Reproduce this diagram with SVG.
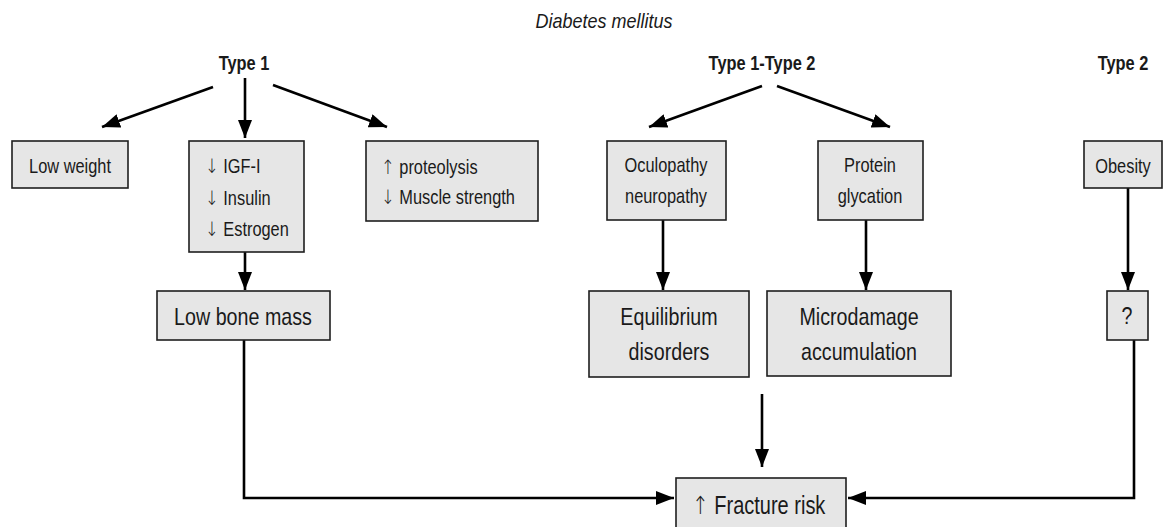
<svg xmlns="http://www.w3.org/2000/svg" width="1165" height="527" viewBox="0 0 1165 527">
<defs>
<style>
text{font-family:"Liberation Sans",Arial,sans-serif;fill:#1a1a1a}
.ar{font-family:"DejaVu Sans",sans-serif;font-weight:200}
.box{fill:#e6e6e6;stroke:#1f1f1f;stroke-width:1.6}
.s{font-size:20px}
.l{font-size:24px}
.f{font-size:25px}
.h{font-size:20px;font-weight:bold}
.t{font-size:20px;font-style:italic}
.c{text-anchor:middle}
.ln{fill:none;stroke:#000;stroke-width:2.6}
</style>
<marker id="ah" markerUnits="userSpaceOnUse" markerWidth="19" markerHeight="14" refX="18" refY="7" orient="auto" viewBox="0 0 19 14">
<path d="M0,0 L18,7 L0,14 Z" fill="#000"/>
</marker>
</defs>
<rect width="1165" height="527" fill="#fff"/>
<text class="t c" transform="translate(604,28) scale(0.9,1)">Diabetes mellitus</text>
<text class="h c" transform="translate(244,70) scale(0.82,1)">Type 1</text>
<text class="h c" transform="translate(762,70) scale(0.82,1)">Type 1-Type 2</text>
<text class="h c" transform="translate(1123,70) scale(0.82,1)">Type 2</text>
<g id="connectors">
<line class="ln" x1="213" y1="87" x2="102" y2="127" marker-end="url(#ah)"/>
<line class="ln" x1="245" y1="78" x2="245" y2="138" marker-end="url(#ah)"/>
<line class="ln" x1="273" y1="85" x2="387" y2="127" marker-end="url(#ah)"/>
<line class="ln" x1="762" y1="86" x2="649" y2="127" marker-end="url(#ah)"/>
<line class="ln" x1="777" y1="86" x2="890" y2="127" marker-end="url(#ah)"/>
<line class="ln" x1="245" y1="252" x2="245" y2="290" marker-end="url(#ah)"/>
<line class="ln" x1="663" y1="220" x2="663" y2="290" marker-end="url(#ah)"/>
<line class="ln" x1="866" y1="220" x2="866" y2="290" marker-end="url(#ah)"/>
<line class="ln" x1="1128" y1="188" x2="1128" y2="290" marker-end="url(#ah)"/>
<line class="ln" x1="762" y1="394" x2="762" y2="467" marker-end="url(#ah)"/>
<path class="ln" d="M244,340 V498 H674" marker-end="url(#ah)"/>
<path class="ln" d="M1134,340 V498 H848" marker-end="url(#ah)"/>
</g>
<g id="low-weight"><rect class="box" x="12" y="141" width="116" height="47"/><text class="s c" transform="translate(70,173) scale(0.82,1)">Low weight</text></g>
<g id="hormones"><rect class="box" x="189" y="141" width="115" height="111"/><text class="s" transform="translate(205,173) scale(0.82,1)"><tspan class="ar">↓</tspan> IGF-I</text><text class="s" transform="translate(205,205) scale(0.82,1)"><tspan class="ar">↓</tspan> Insulin</text><text class="s" transform="translate(205,236) scale(0.82,1)"><tspan class="ar">↓</tspan> Estrogen</text></g>
<g id="proteolysis"><rect class="box" x="366" y="141" width="172" height="80"/><text class="s" transform="translate(381,174) scale(0.82,1)"><tspan class="ar">↑</tspan> proteolysis</text><text class="s" transform="translate(381,204) scale(0.82,1)"><tspan class="ar">↓</tspan> Muscle strength</text></g>
<g id="oculopathy"><rect class="box" x="607" y="141" width="119" height="79"/><text class="s c" transform="translate(666,172) scale(0.82,1)">Oculopathy</text><text class="s c" transform="translate(666,203) scale(0.82,1)">neuropathy</text></g>
<g id="protein"><rect class="box" x="818" y="141" width="105" height="79"/><text class="s c" transform="translate(870,172) scale(0.82,1)">Protein</text><text class="s c" transform="translate(870,203) scale(0.82,1)">glycation</text></g>
<g id="obesity"><rect class="box" x="1084" y="141" width="78" height="47"/><text class="s c" transform="translate(1123,173) scale(0.82,1)">Obesity</text></g>
<g id="low-bone-mass"><rect class="box" x="157" y="291" width="173" height="49"/><text class="l c" transform="translate(243,325) scale(0.82,1)">Low bone mass</text></g>
<g id="equilibrium"><rect class="box" x="589" y="291" width="160" height="86"/><text class="l c" transform="translate(669,325) scale(0.82,1)">Equilibrium</text><text class="l c" transform="translate(669,360) scale(0.82,1)">disorders</text></g>
<g id="microdamage"><rect class="box" x="767" y="291" width="184" height="85"/><text class="l c" transform="translate(859,325) scale(0.82,1)">Microdamage</text><text class="l c" transform="translate(859,360) scale(0.82,1)">accumulation</text></g>
<g id="unknown"><rect class="box" x="1107" y="291" width="41" height="49"/><text class="l c" transform="translate(1127,324) scale(0.82,1)">?</text></g>
<g id="fracture"><rect class="box" x="676" y="478" width="170" height="60"/><text class="f" transform="translate(692,514) scale(0.8,1)"><tspan class="ar">↑</tspan> Fracture risk</text></g>
</svg>
